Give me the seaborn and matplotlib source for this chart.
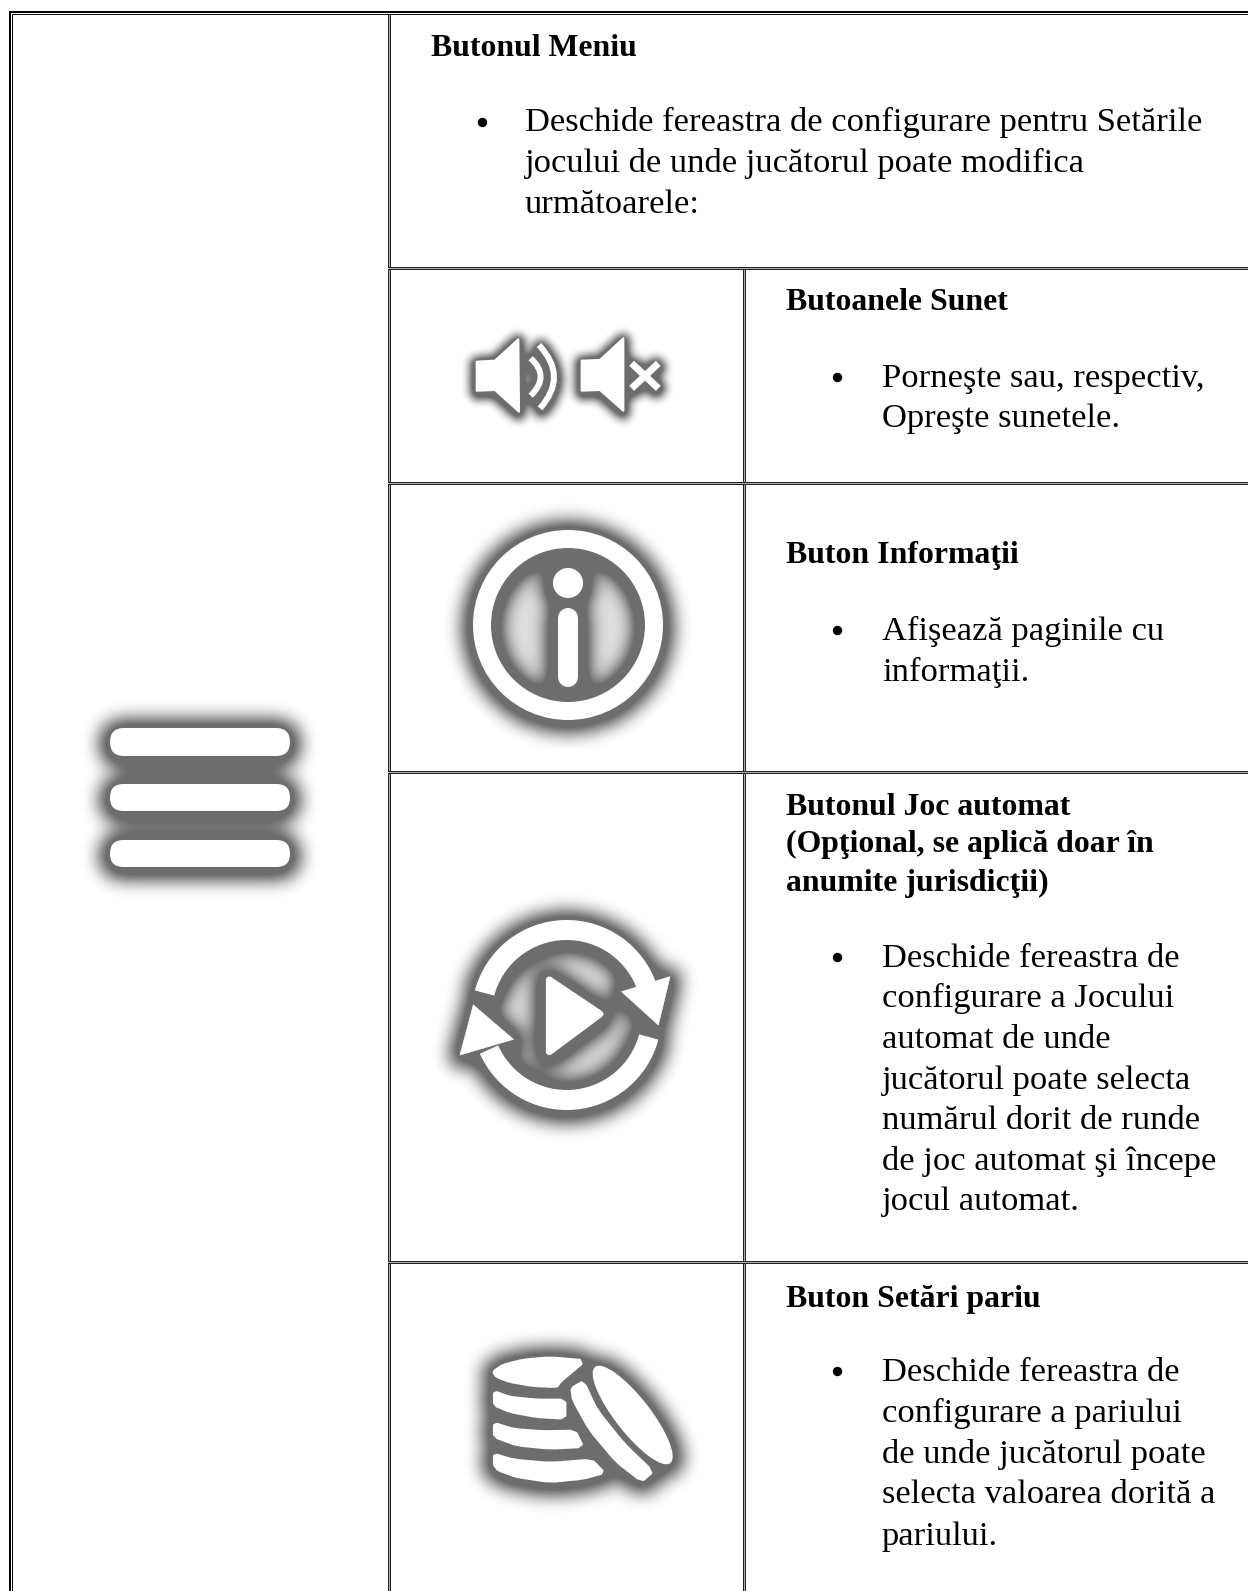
import numpy as np
import pandas as pd
import matplotlib
matplotlib.use("Agg")
import matplotlib.pyplot as plt
from matplotlib.figure import Figure
from matplotlib.backends.backend_agg import FigureCanvasAgg
from matplotlib.patches import Rectangle, Polygon, Circle, Wedge, PathPatch, FancyBboxPatch, Ellipse
from matplotlib.path import Path
import seaborn as sns

W, H = 1248, 1591
FONT = "Liberation Serif"
FS = 24.8
FS_BOLD = 22.9

# ---- text content ----
headings = ["Butonul Meniu", "Butoanele Sunet", "Buton Informaţii",
            "Butonul Joc automat", "(Opţional, se aplică doar în", "anumite jurisdicţii)",
            "Buton Setări pariu"]
heading_x = [431, 786, 786, 786, 786, 786, 786]
heading_y = [56, 310, 563, 815, 852, 891, 1307]

body_top = ["Deschide fereastra de configurare pentru Setările",
            "jocului de unde jucătorul poate modifica",
            "următoarele:"]
body_top_y = [131, 172, 213]

body_lines = ["Porneşte sau, respectiv,", "Opreşte sunetele.",
              "Afişează paginile cu", "informaţii.",
              "Deschide fereastra de", "configurare a Jocului", "automat de unde",
              "jucătorul poate selecta", "numărul dorit de runde",
              "de joc automat şi începe", "jocul automat.",
              "Deschide fereastra de", "configurare a pariului", "de unde jucătorul poate",
              "selecta valoarea dorită a", "pariului."]
body_y = [387, 427, 640, 681, 967, 1007.5, 1048, 1089, 1129, 1170, 1210,
          1381, 1422, 1463, 1503, 1545]

bullet_x = [482, 837, 837, 837, 837]
bullet_y = [122, 377, 630, 957, 1371]

# ---- table rules ----
h_rules = [(388, 267), (388, 482), (388, 771), (388, 1261)]
v_rules = [(388, 15), (743, 270)]


def q(x0, y0, pts):
    return [(x0 + a / 3, y0 + b / 3) for a, b in pts]


def chaikin(pts, n=1):
    p = np.asarray(pts, float)
    for _ in range(n):
        nxt = np.roll(p, -1, axis=0)
        p = np.column_stack([.85 * p + .15 * nxt, .15 * p + .85 * nxt]).reshape(-1, 2)
    return p


def curve(ax, p0, mid, p2, lw, color):
    ctrl = (2 * mid[0] - .5 * (p0[0] + p2[0]), 2 * mid[1] - .5 * (p0[1] + p2[1]))
    ax.add_patch(PathPatch(Path([p0, ctrl, p2], [Path.MOVETO, Path.CURVE3, Path.CURVE3]),
                           fill=False, ec=color, lw=lw * .72, capstyle="butt", zorder=3))


def poly(ax, pts, color, lw=1.5):
    ax.add_patch(Polygon(pts, closed=True, fc=color, ec=color, lw=lw, joinstyle="round", zorder=3))


def draw_icons(ax, c):
    # menu
    for y0, y1 in [(728, 756), (784, 811), (840, 867)]:
        r = (y1 - y0) / 2
        ax.add_patch(FancyBboxPatch((110 + r, y0 + r), 180 - 2 * r, 0, boxstyle=f"round,pad={r},rounding_size={r}",
                                    fc=c, ec=c, lw=0, zorder=3))
    # speaker on
    poly(ax, q(450, 330, [(80, 95), (135, 92), (205, 28), (207, 245), (135, 180), (80, 182)]), c)
    a = q(450, 330, [(242, 85), (272, 140), (242, 197)])
    curve(ax, a[0], a[1], a[2], 6, c)
    a = q(450, 330, [(267, 45), (312, 140), (270, 235)])
    curve(ax, a[0], a[1], a[2], 6, c)
    # speaker off
    poly(ax, q(450, 330, [(395, 92), (450, 90), (520, 25), (520, 242), (450, 180), (395, 182)]), c)
    for s in ([(545, 100), (625, 175)], [(545, 175), (625, 100)]):
        p = q(450, 330, s)
        ax.plot([p[0][0], p[1][0]], [p[0][1], p[1][1]], color=c, lw=7 * .72, solid_capstyle="butt", zorder=3)
    # info
    ax.add_patch(Circle((568, 625), 86, fill=False, ec=c, lw=18 * .72, zorder=3))
    ax.add_patch(Circle((568, 583), 15, fc=c, ec=c, lw=0, zorder=3))
    ax.plot([568, 568], [618, 677], color=c, lw=20 * .72, solid_capstyle="round", zorder=3)
    # autoplay
    poly(ax, q(420, 870, [(388, 330), (540, 432), (388, 545)]), c, lw=5)
    cx, cy = 420 + 440 / 3, 870 + 435 / 3
    ax.add_patch(Wedge((cx, cy), 95, -165, -18, width=20, fc=c, ec=c, lw=0, zorder=3))
    ax.add_patch(Wedge((cx, cy), 95, 15, 156, width=20, fc=c, ec=c, lw=0, zorder=3))
    poly(ax, q(420, 870, [(750, 320), (715, 465), (605, 365)]), c, lw=.5)
    poly(ax, q(420, 870, [(120, 555), (160, 405), (280, 508)]), c, lw=.5)
    # coins
    poly(ax, chaikin(q(450, 1320, [(130, 155), (160, 135), (220, 120), (300, 113), (405, 122), (330, 185), (320, 200),
                                   (250, 197), (180, 185), (140, 170)])), c, lw=2)
    poly(ax, chaikin(q(450, 1320, [(133, 215), (180, 232), (260, 240), (345, 240), (345, 295), (260, 290), (180, 275),
                                   (133, 255)])), c, lw=2)
    poly(ax, chaikin(q(450, 1320, [(133, 310), (190, 328), (280, 335), (375, 333), (398, 380), (300, 385), (200, 375),
                                   (133, 350)])), c, lw=2)
    poly(ax, chaikin(q(450, 1320, [(133, 403), (190, 420), (300, 430), (425, 420), (462, 458), (400, 475), (300, 485),
                                   (200, 470), (145, 450), (133, 435)])), c, lw=2)
    ax.add_patch(Ellipse((450 + 548 / 3, 1320 + 285 / 3), 122, 35, angle=52, fc=c, ec=c, lw=0, zorder=3))
    poly(ax, chaikin(q(450, 1320, [(365, 205), (400, 185), (440, 270), (520, 370), (608, 455), (575, 483), (500, 425),
                                   (420, 330), (370, 240)])), c, lw=2)


def draw_hollows(ax, c):
    ax.add_patch(Circle((568, 625), 80, fc=c, ec=c, lw=0))
    ax.add_patch(Circle((420 + 440 / 3, 870 + 435 / 3), 78, fc=c, ec=c, lw=0))


def frame(ax):
    ax.set_xlim(0, W)
    ax.set_ylim(H, 0)
    ax.axis("off")


def shape_mask(painter):
    f = Figure(figsize=(W / 100, H / 100), dpi=100)
    FigureCanvasAgg(f)
    a = f.add_axes([0, 0, 1, 1])
    painter(a, "black")
    frame(a)
    f.canvas.draw()
    return 1 - np.asarray(f.canvas.buffer_rgba())[..., 0] / 255.0


def blur(m, sigma):
    fy = np.fft.fftfreq(m.shape[0])[:, None]
    fx = np.fft.rfftfreq(m.shape[1])[None, :]
    g = np.exp(-2 * np.pi ** 2 * sigma ** 2 * (fx ** 2 + fy ** 2))
    return np.fft.irfft2(np.fft.rfft2(m) * g, s=m.shape)


def dilate(m, r):
    yy, xx = np.ogrid[:m.shape[0], :m.shape[1]]
    dy = np.minimum(yy, m.shape[0] - yy)
    dx = np.minimum(xx, m.shape[1] - xx)
    disc = (dx ** 2 + dy ** 2 <= r ** 2).astype(float)
    res = np.fft.irfft2(np.fft.rfft2(m) * np.fft.rfft2(disc), s=m.shape)
    return (res > 0.5).astype(float)


def halo(m, r, sigma):
    return blur(dilate(m, r), sigma)


sns.set_theme(style="white")
plt.rcParams["font.family"] = [FONT, "DejaVu Sans"]
fig = plt.figure(figsize=(W / 100, H / 100), dpi=100, facecolor="white")
ax = fig.add_axes([0, 0, 1, 1])

mask = np.roll(shape_mask(draw_icons), 2, axis=0)
hollow = shape_mask(draw_hollows)
shade = halo(mask, 11, 9.0)
shade[270:482] = halo(mask, 6, 4.5)[270:482]
dark = np.clip(0.8 * shade + 0.13 * blur(hollow, 10), 0, 0.58)
dark = np.clip(dark - 0.008, 0, 1)
ax.imshow(1 - dark, cmap="gray", vmin=0, vmax=1, extent=(0, W, H, 0), aspect="auto",
          interpolation="bilinear", zorder=1)
draw_icons(ax, "white")


def rect(x, y, w, h, c):
    ax.add_patch(Rectangle((x, y), w, h, fc=c, ec="none", zorder=2))


# outer border (cut by the right and bottom edges of the picture)
rect(9, 11, W - 9, 2, "black")
rect(9, 11, 2, H - 11, "black")
rect(12, 14, W - 12, 1, "#111111")
rect(12, 14, 1, H - 14, "#111111")
for x, y in v_rules:
    rect(x, y, 1, H - y, "#222222")
    rect(x + 1, y, 1, H - y, "#b0b0b0")
    rect(x + 2, y, 1, H - y, "#222222")
for x, y in h_rules:
    rect(x, y, W - x, 1, "#222222")
    rect(x, y + 1, W - x, 1, "#b0b0b0")
    rect(x, y + 2, W - x, 1, "#222222")

for s, x, y in zip(headings, heading_x, heading_y):
    ax.text(x, y, s, fontsize=FS_BOLD, fontweight="bold", family=FONT, va="baseline", ha="left", color="black", zorder=4)
for s, y in zip(body_top, body_top_y):
    ax.text(525, y, s, fontsize=FS, family=FONT, va="baseline", ha="left", color="black", zorder=4)
for s, y in zip(body_lines, body_y):
    ax.text(882, y, s, fontsize=FS, family=FONT, va="baseline", ha="left", color="black", zorder=4)

bullets = pd.DataFrame({"x": bullet_x, "y": bullet_y})
sns.scatterplot(data=bullets, x="x", y="y", s=46, color="black", linewidth=0, ax=ax, zorder=4, legend=False)

frame(ax)
fig.savefig("out.png", dpi=100)
